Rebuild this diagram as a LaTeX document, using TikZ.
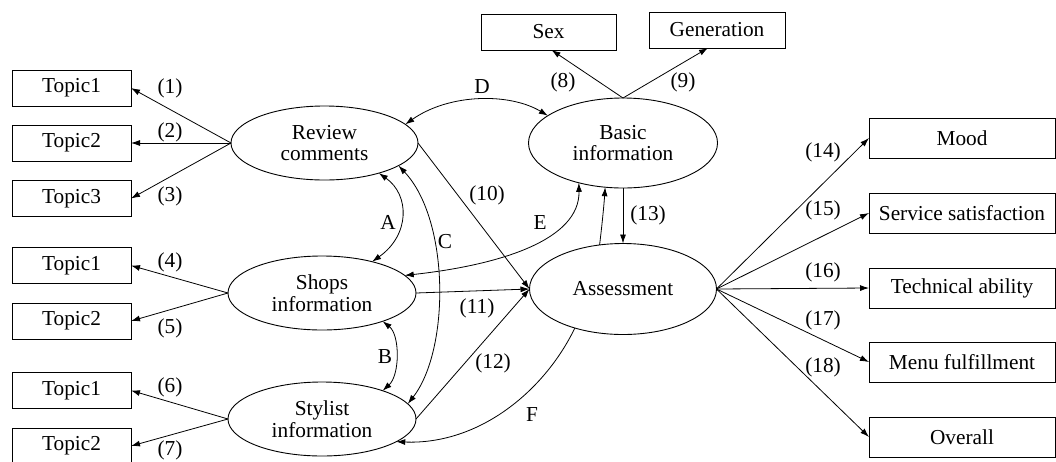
\documentclass[tikz,border=0pt]{standalone}
\usepackage{fontspec}
\setmainfont{Liberation Serif}
\usetikzlibrary{shapes.geometric,arrows.meta}
\begin{document}
\begin{tikzpicture}[x=1pt,y=1pt,
  every node/.style={font=\fontsize{21.3}{21.5}\selectfont},
  box/.style={draw,line width=0.9pt,rectangle,inner sep=0pt,outer sep=0pt},
  ell/.style={draw,line width=0.9pt,ellipse,inner sep=0pt,outer sep=0pt,align=center},
  lab/.style={inner sep=0pt},
  conn/.style={line width=0.8pt,-{Latex[length=9pt,width=6pt]}},
  dconn/.style={line width=0.8pt,{Latex[length=9pt,width=6pt]}-{Latex[length=9pt,width=6pt]}}
]
\useasboundingbox (0,0) rectangle (1056,-461);
% ellipses
\node[ell,minimum width=187,minimum height=74] (rev) at (324.5,-143) {Review\\comments};
\node[ell,minimum width=189,minimum height=90] (basic) at (623,-143) {Basic\\information};
\node[ell,minimum width=188,minimum height=74] (shops) at (322,-293) {Shops\\information};
\node[ell,minimum width=188,minimum height=74] (styl) at (322,-419) {Stylist\\information};
\node[ell,minimum width=187,minimum height=91] (assess) at (623,-289) {Assessment};
% left boxes
\node[box,minimum width=119,minimum height=36] (t1) at (71.5,-88) {Topic1};
\node[box,minimum width=119,minimum height=36] (t2) at (71.5,-143) {Topic2};
\node[box,minimum width=119,minimum height=36] (t3) at (71.5,-198.5) {Topic3};
\node[box,minimum width=119,minimum height=36] (s1) at (71.5,-265.5) {Topic1};
\node[box,minimum width=119,minimum height=36] (s2) at (71.5,-321) {Topic2};
\node[box,minimum width=119,minimum height=36] (y1) at (71.5,-390.5) {Topic1};
\node[box,minimum width=119,minimum height=36] (y2) at (71.5,-446) {Topic2};
% top boxes
\node[box,minimum width=135,minimum height=36] (sex) at (548.5,-32) {Sex};
\node[box,minimum width=136,minimum height=36] (gen) at (717,-30) {Generation};
% right boxes
\node[box,minimum width=186,minimum height=40] (mood) at (962,-138) {Mood};
\node[box,minimum width=186,minimum height=40] (serv) at (962,-213) {Service satisfaction};
\node[box,minimum width=186,minimum height=40] (tech) at (962,-288) {Technical ability};
\node[box,minimum width=186,minimum height=40] (menu) at (962,-362) {Menu fulfillment};
\node[box,minimum width=186,minimum height=40] (over) at (962,-437) {Overall};
% connectors: topics
\draw[conn] (rev.west) -- (t1.east);
\draw[conn] (rev.west) -- (t2.east);
\draw[conn] (rev.west) -- (t3.east);
\draw[conn] (shops.west) -- (s1.east);
\draw[conn] (shops.west) -- (s2.east);
\draw[conn] (styl.west) -- (y1.east);
\draw[conn] (styl.west) -- (y2.east);
\draw[conn] (basic.north) -- ([xshift=3pt]sex.south);
\draw[conn] (basic.north) -- ([xshift=-9pt]gen.south);
% paths to assessment
\draw[conn] (rev.east) -- (assess.west);
\draw[conn] (shops.east) -- (assess.west);
\draw[conn] (styl.east) -- (assess.west);
\draw[conn] (basic.south) -- (assess.north);
\draw[conn] (assess.118) .. controls (602,-225) and (604,-205) .. (basic.-112);
% outputs
\draw[conn] (assess.east) -- (mood.west);
\draw[conn] (assess.east) -- (serv.west);
\draw[conn] (assess.east) -- (tech.west);
\draw[conn] (assess.east) -- (menu.west);
\draw[conn] (assess.east) -- (over.west);
% correlations
\draw[dconn] (rev.13) .. controls (450,-93) and (510,-93) .. (basic.160);
\draw[dconn] (rev.-29) .. controls (410,-195) and (410,-235) .. (shops.32);
\draw[dconn] (rev.-17) .. controls (450,-220) and (450,-350) .. (styl.10);
\draw[dconn] (shops.-25) .. controls (400,-335) and (400,-375) .. (styl.25);
\draw[dconn] (shops.12) .. controls (500,-265) and (580,-240) .. (basic.-138);
\draw[conn] (assess.-141) .. controls (545,-390) and (480,-445) .. (styl.-17);
% labels
\node[lab] (l1) at (170,-88) {(1)};
\node[lab] (l2) at (170,-132) {(2)};
\node[lab] (l3) at (170,-196) {(3)};
\node[lab] (l4) at (170,-262) {(4)};
\node[lab] (l5) at (170,-328) {(5)};
\node[lab] (l6) at (170,-387) {(6)};
\node[lab] (l7) at (170,-450) {(7)};
\node[lab] (l8) at (563,-82) {(8)};
\node[lab] (l9) at (683,-82) {(9)};
\node[lab] (lD) at (482,-87) {D};
\node[lab] (lA) at (388,-222) {A};
\node[lab] (lC) at (445,-242) {C};
\node[lab] (lB) at (385,-357) {B};
\node[lab] (lE) at (540,-223) {E};
\node[lab] (lF) at (532,-415) {F};
\node[lab] (l10) at (487,-195) {(10)};
\node[lab] (l11) at (477,-308) {(11)};
\node[lab] (l12) at (493,-363) {(12)};
\node[lab] (l13) at (648,-215) {(13)};
\node[lab] (l14) at (823,-152) {(14)};
\node[lab] (l15) at (823,-210) {(15)};
\node[lab] (l16) at (823,-272) {(16)};
\node[lab] (l17) at (823,-320) {(17)};
\node[lab] (l18) at (823,-367) {(18)};
\end{tikzpicture}
\end{document}
